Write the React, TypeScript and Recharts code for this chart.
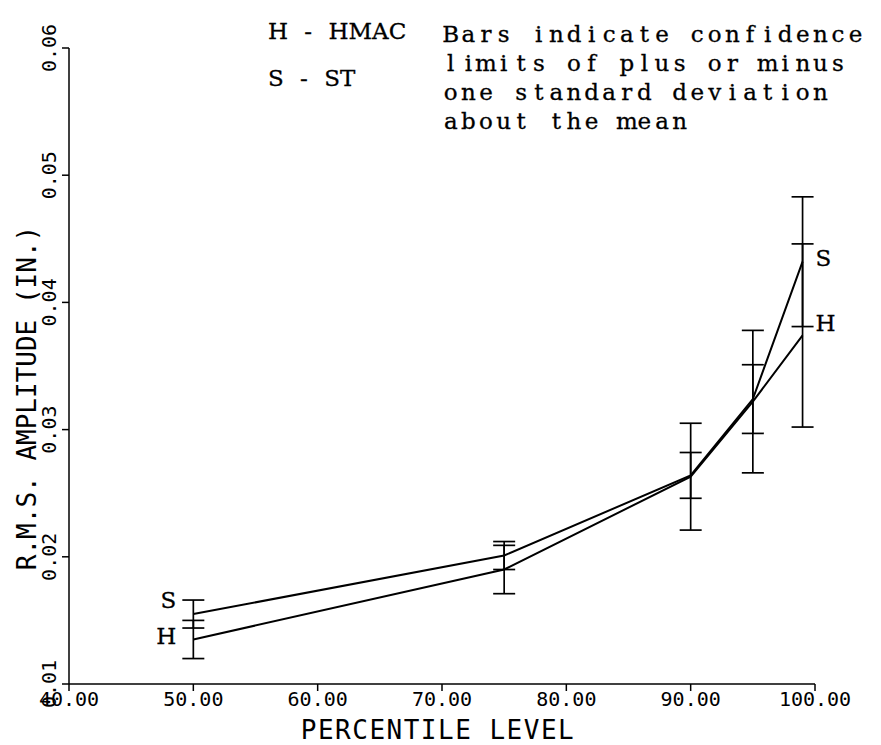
import React from 'react';
import { ComposedChart, Line, XAxis, YAxis, ErrorBar } from 'recharts';

// percentile levels and mean / std dev of rms amplitude (in.)
const percentiles = [50, 75, 90, 95, 99];
const stMeans = [0.0155, 0.0201, 0.0264, 0.0324, 0.0432];
const stSd = [0.0011, 0.0011, 0.0018, 0.0027, 0.0051];
const hmacMeans = [0.0135, 0.019, 0.0263, 0.0322, 0.0374];
const hmacSd = [0.0015, 0.0019, 0.0042, 0.0056, 0.0072];
const xTicks = [40, 50, 60, 70, 80, 90, 100];
const yTicks = [0.01, 0.02, 0.03, 0.04, 0.05, 0.06];
const legendLines = ['H - HMAC', 'S - ST'];
const noteLines = ['Bars indicate confidence', 'limits of plus or minus', 'one standard deviation', 'about the mean'];

const data = percentiles.map((p, i) => ({
  pct: p,
  st: stMeans[i],
  stErr: stSd[i],
  hmac: hmacMeans[i],
  hmacErr: hmacSd[i],
}));

const plotFont = '"DejaVu Sans Mono", monospace';
const typeFont = '"DejaVu Serif", "Liberation Serif", serif';
const typeSize = 23;

// typewriter style line: serif glyphs on a fixed pitch
const TypeLine = ({ x, y, text, pitch }: { x: number; y: number; text: string; pitch: number }) => (
  <text
    y={y}
    fontFamily={typeFont}
    fontSize={typeSize}
    fill="#000"
    stroke="#000"
    strokeWidth={0.3}
    textAnchor="middle"
    style={{ whiteSpace: 'pre' }}
  >
    {text.split('').map((c, i) => (
      <tspan key={i} x={x + pitch / 2 + i * pitch}>
        {c}
      </tspan>
    ))}
  </text>
);

const YTick = (props: any) => {
  const { x, y, payload } = props;
  const bx = x - 4;
  return (
    <text x={bx} y={y} transform={`rotate(-90 ${bx} ${y})`} textAnchor="middle" fontFamily={plotFont} fontSize={20} fill="#000">
      {payload.value.toFixed(2)}
    </text>
  );
};

// letter at first and last point of each line
const endLabel = (letter: string, dyLeft: number, dyRight: number) => (props: any) => {
  const { x, y, index } = props;
  if (index === 0) {
    return (
      <text x={x - 17} y={y + dyLeft} textAnchor="end" fontFamily={typeFont} fontSize={typeSize} fill="#000" stroke="#000" strokeWidth={0.3}>
        {letter}
      </text>
    );
  }
  if (index === percentiles.length - 1) {
    return (
      <text x={x + 13} y={y + dyRight} textAnchor="start" fontFamily={typeFont} fontSize={typeSize} fill="#000" stroke="#000" strokeWidth={0.3}>
        {letter}
      </text>
    );
  }
  return <g />;
};

export default function App() {
  return (
    <div style={{ position: 'absolute', left: 0, top: 0, width: 881, height: 745, background: '#fff' }}>
      <ComposedChart width={881} height={745} data={data} margin={{ top: 48, right: 66, left: 0, bottom: 0 }}>
        <XAxis
          dataKey="pct"
          type="number"
          domain={[40, 100]}
          ticks={xTicks}
          tickFormatter={(v: number) => v.toFixed(2)}
          height={61}
          tickSize={7}
          tickMargin={1}
          stroke="#000"
          strokeWidth={1.5}
          tick={{ fill: '#000', fontSize: 20, fontFamily: plotFont }}
          label={{
            content: () => (
              <text x={438} y={739} textAnchor="middle" fontFamily={plotFont} fontSize={26} letterSpacing={1.5} fill="#000">
                PERCENTILE LEVEL
              </text>
            ),
          }}
        />
        <YAxis
          type="number"
          domain={[0.01, 0.06]}
          ticks={yTicks}
          width={69}
          tickSize={7}
          stroke="#000"
          strokeWidth={1.5}
          tick={<YTick />}
          label={{
            content: () => (
              <text x={36} y={398} transform="rotate(-90 36 398)" textAnchor="middle" fontFamily={plotFont} fontSize={26} fill="#000">
                R.M.S. AMPLITUDE (IN.)
              </text>
            ),
          }}
        />
        <Line
          dataKey="st"
          stroke="#000"
          strokeWidth={2}
          dot={false}
          isAnimationActive={false}
          label={endLabel('S', -6, 4)}
        >
          <ErrorBar dataKey="stErr" direction="y" width={11} stroke="#000" strokeWidth={1.7} isAnimationActive={false} />
        </Line>
        <Line
          dataKey="hmac"
          stroke="#000"
          strokeWidth={2}
          dot={false}
          isAnimationActive={false}
          label={endLabel('H', 5, -4)}
        >
          <ErrorBar dataKey="hmacErr" direction="y" width={11} stroke="#000" strokeWidth={1.7} isAnimationActive={false} />
        </Line>
      </ComposedChart>
      <svg width={881} height={745} style={{ position: 'absolute', left: 0, top: 0, pointerEvents: 'none' }}>
        {legendLines.map((t, i) => (
          <text
            key={t}
            x={268}
            y={39 + i * 47}
            fontFamily={typeFont}
            fontSize={typeSize}
            wordSpacing={9}
            fill="#000"
            stroke="#000"
            strokeWidth={0.3}
          >
            {t}
          </text>
        ))}
        {noteLines.map((t, i) => (
          <TypeLine key={t} x={442} y={42 + i * 29} text={t} pitch={17.6} />
        ))}
      </svg>
    </div>
  );
}
